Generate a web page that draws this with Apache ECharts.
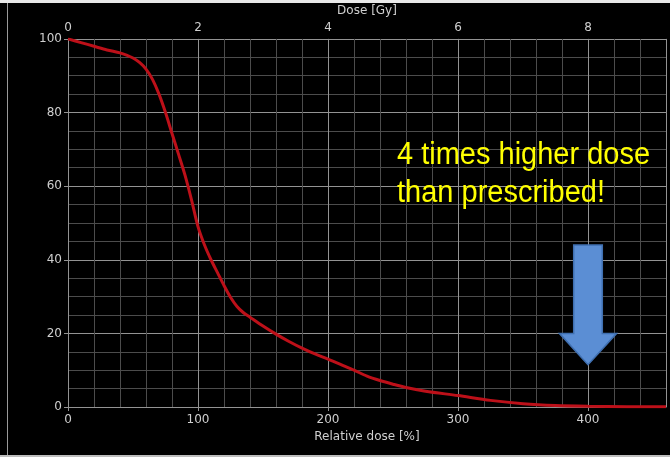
<!DOCTYPE html>
<html>
<head>
<meta charset="utf-8">
<script src="https://cdn.jsdelivr.net/npm/echarts@6/dist/echarts.min.js"></script>
<style>
html, body { margin: 0; padding: 0; background: #000; }
#main { width: 670px; height: 457px; }
</style>
</head>
<body>
<div id="main"></div>
<script>
// relative dose [%] and volume [%]
var relDose = [0, 10, 20, 30, 40, 45, 50, 55, 60, 65, 70, 75, 80, 85, 90, 95, 100, 105, 110, 115, 120, 125, 130, 135, 140, 150, 160, 170, 180, 190, 200, 210, 220, 230, 240, 250, 260, 275, 300, 325, 350, 375, 400, 430, 460];
var volume  = [100, 99, 98, 97, 96.2, 95.6, 94.8, 93.6, 91.8, 89, 85, 80, 74.3, 68.7, 63, 56.3, 49, 44, 40, 36.5, 33, 29.8, 27.3, 25.6, 24.4, 22, 19.8, 17.8, 16, 14.4, 13, 11.5, 10, 8.4, 7.2, 6.2, 5.3, 4.3, 3.1, 1.8, 0.9, 0.4, 0.2, 0.1, 0.05];

var relDoseRange = [0, 460];
var gyRange = [0, 9.2];
var volumeRange = [0, 100];

var noteLines = ['4 times higher dose', 'than prescribed!'];
// down arrow in data units: tip, head base, shaft top, half widths
var arrowTip = [400, 11.5];
var arrowHeadBase = 20;
var arrowShaftTop = 44;
var arrowShaftHalf = 11;
var arrowHeadHalf = 22;

var chart = echarts.init(document.getElementById('main'));

var majorLine = '#939393';
var minorLine = '#4c4c4c';
var labelColor = '#cfcfcf';
var font = 'DejaVu Sans';

var data = relDose.map(function (x, i) { return [x, volume[i]]; });

var option = {
  backgroundColor: '#000',
  animation: false,
  grid: { left: 68, right: 4, top: 37, bottom: 50 },
  xAxis: [
    {
      type: 'value',
      position: 'bottom',
      min: relDoseRange[0],
      max: relDoseRange[1],
      interval: 100,
      name: 'Relative dose [%]',
      nameLocation: 'middle',
      nameGap: 23,
      nameTextStyle: { color: labelColor, fontFamily: font, fontSize: 12 },
      axisLine: { show: true, lineStyle: { color: majorLine, width: 1 } },
      axisTick: { show: true, length: 4, lineStyle: { color: majorLine } },
      axisLabel: {
        color: labelColor, fontFamily: font, fontSize: 12, margin: 7,
        showMaxLabel: false
      },
      splitLine: { show: true, lineStyle: { color: majorLine, width: 1 } },
      minorTick: { show: false, splitNumber: 5 },
      minorSplitLine: { show: true, lineStyle: { color: minorLine, width: 1 } }
    },
    {
      type: 'value',
      position: 'top',
      min: gyRange[0],
      max: gyRange[1],
      interval: 2,
      name: 'Dose [Gy]',
      nameLocation: 'middle',
      nameGap: 13,
      nameTextStyle: { color: labelColor, fontFamily: font, fontSize: 12 },
      axisLine: { show: false },
      axisTick: { show: false },
      axisLabel: {
        color: labelColor, fontFamily: font, fontSize: 12, margin: 5,
        showMaxLabel: false
      },
      splitLine: { show: false }
    }
  ],
  yAxis: {
    type: 'value',
    min: volumeRange[0],
    max: volumeRange[1],
    interval: 20,
    axisLine: { show: true, lineStyle: { color: majorLine, width: 1 } },
    axisTick: { show: true, length: 4, lineStyle: { color: majorLine } },
    axisLabel: { color: labelColor, fontFamily: font, fontSize: 12, margin: 6 },
    splitLine: { show: true, lineStyle: { color: majorLine, width: 1 } },
    minorTick: { show: false, splitNumber: 4 },
    minorSplitLine: { show: true, lineStyle: { color: minorLine, width: 1 } }
  },
  series: [
    {
      type: 'line',
      xAxisIndex: 0,
      data: data,
      smooth: 0.3,
      showSymbol: false,
      lineStyle: { color: '#bd1019', width: 3 },
      z: 3
    }
  ]
};

chart.setOption(option);

// arrow drawn from data coordinates
function px(x, y) { return chart.convertToPixel({ xAxisIndex: 0, yAxisIndex: 0 }, [x, y]); }
var ax = arrowTip[0];
var arrowPts = [
  px(ax - arrowShaftHalf, arrowShaftTop),
  px(ax + arrowShaftHalf, arrowShaftTop),
  px(ax + arrowShaftHalf, arrowHeadBase),
  px(ax + arrowHeadHalf, arrowHeadBase),
  px(ax, arrowTip[1]),
  px(ax - arrowHeadHalf, arrowHeadBase),
  px(ax - arrowShaftHalf, arrowHeadBase)
];

chart.setOption({
  graphic: [
    { type: 'rect', shape: { x: 0, y: 0, width: 670, height: 3 }, style: { fill: '#e8e8e8' }, z: 10 },
    { type: 'rect', shape: { x: 7, y: 3, width: 1, height: 452 }, style: { fill: '#9a9a9a' }, z: 10 },
    { type: 'rect', shape: { x: 0, y: 455, width: 670, height: 2 }, style: { fill: '#bdbdbd' }, z: 10 },
    {
      type: 'polygon',
      shape: { points: arrowPts },
      style: { fill: '#5b8ed4', stroke: '#3f6fb0', lineWidth: 1.5 },
      z: 10
    },
    {
      type: 'text',
      left: 397,
      top: 136,
      scaleY: 1.07,
      style: {
        text: noteLines.join('\n'),
        fill: '#ffff00',
        font: '29px "Liberation Sans", Arial, sans-serif',
        lineHeight: 36
      },
      z: 10
    }
  ]
});
</script>
</body>
</html>
